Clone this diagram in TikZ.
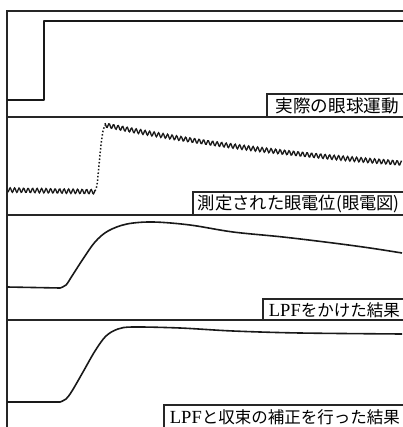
\documentclass[tikz,border=0pt]{standalone}
\usepackage{fontspec}
\newfontfamily\jpfont{Noto Sans CJK JP}
\newfontfamily\serfont{Liberation Serif}
\begin{document}
\begin{tikzpicture}[x=1pt,y=1pt,
  frame/.style={line width=1.2pt,black!85},
  sig/.style={line width=1.6pt,black!90,line join=round},
  lbl/.style={anchor=east,inner sep=0pt,font=\jpfont\fontsize{17.6}{20}\selectfont},
  lbls/.style={anchor=east,inner sep=0pt,font=\jpfont\fontsize{16.5}{19}\selectfont}]
\useasboundingbox (0,0) rectangle (402,-427);
% frame
\draw[frame] (403,-11) -- (7,-11) -- (7,-428);
\draw[frame] (7,-117) -- (403,-117);
\draw[frame] (7,-215) -- (403,-215);
\draw[frame] (7,-320) -- (403,-320);
% label boxes
\draw[frame] (267,-117) |- (403,-94);
\draw[frame] (193,-215) |- (403,-192);
\draw[frame] (263,-320) |- (403,-299);
\draw[frame] (164,-428) |- (403,-405);
\node[lbl] (l1) at (399,-106) {実際の眼球運動};
\node[lbl,font=\jpfont\fontsize{17.3}{20}\selectfont] (l2) at (400,-203.5) {測定された眼電位(眼電図)};
\node[lbls] (l3) at (400,-310) {{\serfont\fontsize{18.5}{19}\selectfont LPF}をかけた結果};
\node[lbls] (l4) at (400,-417) {{\serfont\fontsize{18.5}{19}\selectfont LPF}と収束の補正を行った結果};
% panel 1: step
\draw[sig] (7,-100) -- (44,-100) -- (44,-21) -- (403,-21);
% panel 2: noisy EOG
\draw[line width=1.3pt,black!90] plot[domain=8:95,samples=120]
  (\x,{-190-0.02*(\x-8)+2.2*sin(mod(\x,4.5)*80)});
\draw[line width=1.5pt,black!90,dotted] plot[smooth] coordinates
  {(95,-191) (97,-185) (99,-165) (101,-145) (103,-131) (105,-125)};
\draw[line width=1.3pt,black!90] plot[domain=105:402,samples=400]
  (\x,{-125-38*(1-exp(-(\x-105)/300))/0.626+2.2*sin(mod(\x,4.5)*80)});
% panel 3: LPF
\draw[sig] (7,-287) -- (60,-288) plot[smooth,tension=0.55] coordinates
  {(60,-288) (66,-285) (72,-276) (83,-259) (95,-242) (108,-231) (127,-224)
   (153,-222) (190,-225) (233,-232) (283,-237) (333,-243) (370,-248) (402,-253)};
% panel 4: corrected
\draw[sig] (7,-402) -- (60,-402) plot[smooth,tension=0.55] coordinates
  {(60,-402) (66,-399) (72,-391) (83,-372) (95,-351) (106,-336) (118,-329)
   (133,-327) (180,-328) (233,-331) (300,-333) (402,-334)};
\end{tikzpicture}
\end{document}
